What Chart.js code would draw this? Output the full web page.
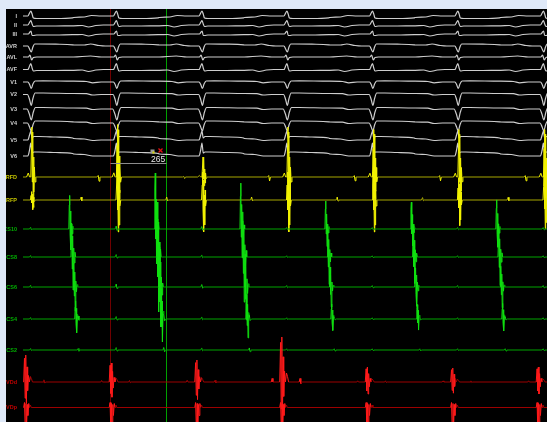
<!DOCTYPE html>
<html>
<head>
<meta charset="utf-8">
<script src="https://cdn.jsdelivr.net/npm/chart.js@4.4.1/dist/chart.umd.min.js"></script>
<style>
  html, body { margin: 0; padding: 0; background: #dfe9f8; }
  #wrap { position: absolute; left: 6px; top: 9px; width: 541px; height: 413px; background: #000; }
</style>
</head>
<body>
<div id="wrap"><canvas id="ep"></canvas></div>
<script>
// Beat timing in ms (QRS in lead I), read from the recording
const qrsTimes = [35, 440, 845, 1247, 1652, 2056, 2461];
// Caliper cursors (ms)
const cursorTimes = [412, 677];

const channelNames = ["I", "II", "III", "AVR", "AVL", "AVF", "V1", "V2", "V3", "V4", "V5", "V6",
  "RFD", "RFP", "CS10", "CS8", "CS6", "CS4", "CS2", "VDd", "VDp"];

// Beat shapes: [ms from QRS, deflection], deflection up is positive
const shapeI   = [[-200,-1.5],[-150,-1],[-115,0.5],[-70,0],[-12,0],[-4,3],[2,5],[8,2],[14,-2],[30,-2.5],[120,-2.5],[200,-1.8]];
const shapeII  = [[-200,-0.8],[-160,-0.5],[-130,-2],[-95,-0.5],[-60,0],[-12,0],[-3,3],[2,4.5],[8,1],[14,-1.5],[30,-1],[120,-1],[200,-0.8]];
const shapeIII = [[-200,-0.6],[-160,-0.5],[-130,-2],[-95,-0.5],[-60,0],[-10,0],[-2,2],[3,3],[8,-1.5],[14,-1.5],[30,-1],[120,-1],[200,-0.6]];
const shapeAVR = [[-200,1],[-150,1],[-120,2],[-80,0.5],[-50,0],[-12,0],[-4,-3],[4,-6],[12,-1],[20,2],[40,2],[120,1.8],[200,1.2]];
const shapeAVL = [[-200,0],[-120,1],[-70,0],[-10,0],[-2,2],[6,-3],[14,-0.5],[30,0],[200,0]];
const shapeAVF = [[-200,-0.8],[-160,-0.5],[-130,-2],[-95,-0.5],[-60,0],[-12,0],[-3,4],[2,6],[8,1.5],[14,-1.5],[30,-1],[120,-1],[200,-0.8]];
const shapeV1  = [[-200,0.8],[-140,0.5],[-110,-0.8],[-70,0],[-12,0],[-3,-3],[4,-6.5],[12,-2],[22,1],[60,1.2],[200,0.8]];
const shapeV2  = [[-200,1],[-140,0.8],[-110,-0.5],[-70,0],[-14,0],[-4,-5],[4,-11],[12,-4],[22,1.5],[60,1.5],[200,1]];
const shapeV3  = [[-200,1],[-140,0.8],[-110,-0.5],[-70,0],[-16,0],[-5,-5],[4,-11],[14,-3],[24,1.5],[60,1.5],[200,1]];
const shapeV4  = [[-200,1],[-140,0.8],[-110,-0.5],[-70,0],[-14,0],[-4,-4],[4,-8],[12,-2],[22,2],[60,2],[200,1.2]];
const shapeV5  = [[-200,1.5],[-150,1],[-110,-0.5],[-70,0],[-12,0],[-4,5],[2,9],[8,2],[16,3.5],[40,3.5],[120,3],[200,2]];
const shapeV6  = [[-200,2],[-150,1.5],[-110,0],[-70,0],[-12,0],[-4,6],[2,13],[8,3],[16,4],[40,4],[120,3.5],[200,2.5]];
const shapeRFD = [[-90,0],[-84,1.5],[-80,-4],[-76,0],[-18,0],[-10,4],[-4,0],[2,0],[5,30],[7,50],[9,-5],[11,45],[13,-22],[15,20],[17,-15],[19,10],[22,-5],[26,0]];
const shapeRFP = [[-170,0],[-165,3],[-161,-1],[-157,0],[0,0],[3,15],[5,28],[7,-10],[9,20],[11,-32],[13,5],[15,-25],[17,10],[19,-6],[23,0]];
const shapeCS10 = [[-4,0],[1,3],[5,-1.5],[9,0],[182,0],[184,40],[186,56],[188,-10],[190,30],[192,-35],[195,10],[198,-8],[201,5],[204,0]];
const shapeCS8  = [[-4,0],[1,2.5],[5,-1],[9,0],[192,0],[194,30],[196,55],[198,-20],[200,35],[202,-55],[205,15],[208,-10],[211,8],[214,0]];
const shapeCS6  = [[-4,0],[1,3],[5,-1.5],[9,0],[202,0],[204,25],[206,40],[208,-15],[210,25],[212,-40],[215,10],[218,-8],[221,4],[224,0]];
const shapeCS4  = [[-4,0],[1,2.5],[5,-1],[9,0],[210,0],[212,20],[214,30],[216,-8],[218,18],[220,-23],[223,8],[226,5],[230,-2],[236,0]];
const shapeCS2  = [[-4,0],[1,2.5],[5,-1],[9,0],[222,0],[226,2.5],[230,-2],[234,0]];
const shapeVDd = [[-72,0],[-68,2],[-64,0],[-32,0],[-28,22],[-25,-15],[-22,25],[-19,-20],[-16,14],[-13,-8],[-9,6],[-5,0],[0,5],[5,3],[10,0],[60,0],[64,2],[68,-1],[72,0]];
const shapeVDp = [[-32,0],[-28,5],[-24,-25],[-21,4],[-18,-20],[-15,3],[-12,-8],[-8,4],[-4,0],[0,2.5],[4,0]];

// Beat-to-beat size of the intracardiac signals
const rfdGain = [1.0, 1.05, 0.4, 1.0, 0.95, 0.95, 0.95];
const rfpGain = [0.3, 1.0, 1.0, 1.0, 1.0, 0.8, 0.9];
const csGain  = [0.6, 1.0, 0.82, 0.5, 0.48, 0.52, 0.5];
const vddGain = [1.08, 0.76, 0.88, 1.8, 0.6, 0.56, 0.6];

const shapes = [shapeI, shapeII, shapeIII, shapeAVR, shapeAVL, shapeAVF, shapeV1, shapeV2, shapeV3, shapeV4, shapeV5, shapeV6,
  shapeRFD, shapeRFP, shapeCS10, shapeCS8, shapeCS6, shapeCS4, shapeCS2, shapeVDd, shapeVDp];
const gains = [null, null, null, null, null, null, null, null, null, null, null, null,
  rfdGain, rfpGain, csGain, csGain, csGain, csGain, csGain, vddGain, null];

// ---- layout / style ----
const X_MIN = 0, X_MAX = 2480, Y_SPAN = 413;
// baseline of each channel, px from the top of the plot
const channelOffsets = [7, 16, 25, 37, 48, 60.5, 73, 85.5, 100, 114, 131, 147,
  168, 191, 220, 248, 278, 310, 341, 373, 398.5];
const groups = ["ecg","ecg","ecg","ecg","ecg","ecg","ecg","ecg","ecg","ecg","ecg","ecg",
  "rf","rf","cs","cs","cs","cs","cs","vd","vd"];
const palette = {
  ecg: { dim: "#cdcdcd", bright: "#cdcdcd", label: "#d0d0d0" },
  rf:  { dim: "#a6a600", bright: "#f2f200", label: "#c4c400" },
  cs:  { dim: "#00a400", bright: "#10e010", label: "#00b000" },
  vd:  { dim: "#9c0000", bright: "#ff1a1a", label: "#c00000" },
};

function buildSeries(i) {
  const base = channelOffsets[i];
  const pts = [{ x: -300, y: base }, { x: X_MAX + 300, y: base }];
  qrsTimes.forEach((t, b) => {
    const g = gains[i] ? gains[i][b] : 1;
    shapes[i].forEach(([dt, a]) => pts.push({ x: t + dt, y: base - a * g }));
  });
  return pts.sort((p, q) => p.x - q.x);
}

const datasets = channelNames.map((name, i) => {
  const pal = palette[groups[i]];
  const ecg = groups[i] === "ecg";
  return {
    label: name,
    data: buildSeries(i),
    borderColor: pal.dim,
    borderWidth: ecg ? 1.2 : 1,
    pointRadius: 0,
    tension: ecg ? 0.4 : 0,
    cubicInterpolationMode: ecg ? "monotone" : "default",
    order: channelNames.length - i,
    segment: {
      borderColor: ctx => Math.abs(ctx.p1.parsed.y - ctx.p0.parsed.y) > 3.5 ? pal.bright : pal.dim,
    },
  };
});

// caliper cursors and the interval readout
const caliper = {
  id: "caliper",
  beforeDatasetsDraw(chart) {
    const { ctx, chartArea: a, scales: { x } } = chart;
    const cols = ["#700000", "#00a000"];
    ctx.save();
    ctx.lineWidth = 1;
    cursorTimes.forEach((t, k) => {
      const px = Math.round(x.getPixelForValue(t)) + 0.5;
      ctx.strokeStyle = cols[k];
      ctx.beginPath();
      ctx.moveTo(px, a.top);
      ctx.lineTo(px, a.bottom);
      ctx.stroke();
    });
    ctx.restore();
  },
  afterDatasetsDraw(chart) {
    const { ctx, scales: { x, y } } = chart;
    const x0 = Math.round(x.getPixelForValue(cursorTimes[0])) + 0.5;
    const x1 = Math.round(x.getPixelForValue(cursorTimes[1])) + 0.5;
    const yy = Math.round(y.getPixelForValue(154)) + 0.5;
    ctx.save();
    ctx.strokeStyle = "#8c8c8c";
    ctx.lineWidth = 1;
    ctx.beginPath();
    ctx.moveTo(x0, yy);
    ctx.lineTo(x1, yy);
    ctx.stroke();
    // icons
    ctx.fillStyle = "#9a9a9a";
    ctx.fillRect(x1 - 16, yy - 14, 4, 4);
    ctx.fillStyle = "#d8d800";
    ctx.fillRect(x1 - 14, yy - 12, 2, 2);
    ctx.strokeStyle = "#e01010";
    ctx.lineWidth = 1.3;
    ctx.beginPath();
    ctx.moveTo(x1 - 8, yy - 15); ctx.lineTo(x1 - 4, yy - 11);
    ctx.moveTo(x1 - 4, yy - 15); ctx.lineTo(x1 - 8, yy - 11);
    ctx.stroke();
    ctx.fillStyle = "#e8e8e8";
    ctx.font = '8.5px "Liberation Sans"';
    ctx.textAlign = "left";
    ctx.textBaseline = "alphabetic";
    ctx.fillText(String(Math.round(cursorTimes[1] - cursorTimes[0])), x1 - 15.5, yy - 1.5);
    ctx.restore();
  },
};

new Chart(document.getElementById("ep"), {
  type: "line",
  data: { datasets },
  plugins: [caliper],
  options: {
    responsive: true,
    maintainAspectRatio: false,
    animation: false,
    events: [],
    parsing: false,
    layout: { padding: 0 },
    plugins: { legend: { display: false }, tooltip: { enabled: false } },
    scales: {
      x: { type: "linear", min: X_MIN, max: X_MAX, display: false },
      y: {
        type: "linear",
        min: 0,
        max: Y_SPAN,
        reverse: true,
        grid: { display: false, drawTicks: false },
        border: { display: false },
        afterBuildTicks: s => { s.ticks = channelOffsets.map(v => ({ value: v })); },
        afterFit: s => { s.width = 17; s.paddingTop = 0; s.paddingBottom = 0; },
        ticks: {
          autoSkip: false,
          padding: 6,
          font: { family: "Liberation Sans", size: 5.5, weight: "bold" },
          color: ctx => palette[groups[ctx.index]].label,
          callback: (v, i) => channelNames[i],
        },
      },
    },
  },
});
</script>
</body>
</html>
